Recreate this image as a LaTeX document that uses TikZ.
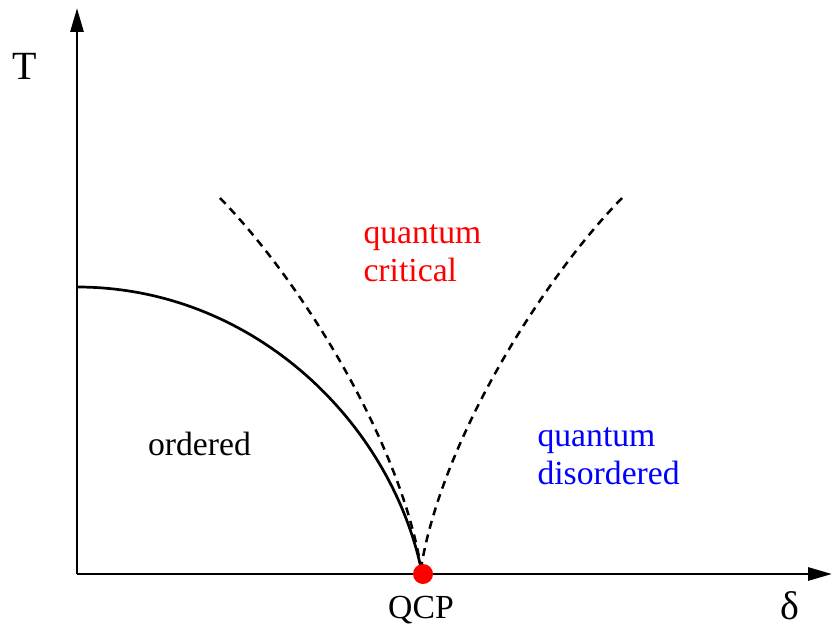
\documentclass[tikz,border=0pt]{standalone}
\usepackage{fontspec}
\setmainfont{Liberation Serif}
\usetikzlibrary{arrows.meta}
\begin{document}
\begin{tikzpicture}[x=1pt,y=-1pt,
  axis/.style={line width=2.9pt,-{Triangle[length=24pt,width=13pt]}},
  phaseline/.style={line width=2.7pt},
  crossover/.style={line width=2.5pt,dash pattern=on 8pt off 6pt},
  lbl/.style={inner sep=0pt,anchor=base west,font=\fontsize{33.7}{37.7}\selectfont},
  axlbl/.style={inner sep=0pt,font=\fontsize{40}{44}\selectfont}]
\useasboundingbox (0,0) rectangle (832,626);
\coordinate (O) at (77,574);
\coordinate (Ytip) at (77,8);
\coordinate (Xtip) at (832,574);
\coordinate (Tc) at (77,287);
\coordinate (Ltop) at (220,198);
\coordinate (Rtop) at (622,198);
\coordinate (Qend) at (421,568);
\draw[axis] (O) -- (Ytip);
\draw[axis] (O) -- (Xtip);
\draw[phaseline] (Tc) .. controls (250,287) and (388,418) .. (Qend);
\draw[crossover] (Ltop) .. controls (300,280) and (400,440) .. (Qend);
\draw[crossover] (Rtop) .. controls (542,280) and (442,440) .. (Qend);
\node[circle,fill=red,inner sep=0pt,minimum size=20pt] (qcpdot) at (423,574) {};
\node[axlbl] (T) at (25,66) {T};
\node[axlbl] (delta) at (790,606) {δ};
\node[lbl,anchor=base] (qcp) at (421,618) {QCP};
\node[lbl,anchor=base] (ord) at (199.5,455) {ordered};
\node[lbl,text=red] (qc1) at (363.3,243.3) {quantum};
\node[lbl,text=red] (qc2) at (363.3,281) {critical};
\node[lbl,text=blue] (qd1) at (537.3,446.7) {quantum};
\node[lbl,text=blue] (qd2) at (537.3,484.3) {disordered};
\end{tikzpicture}
\end{document}
